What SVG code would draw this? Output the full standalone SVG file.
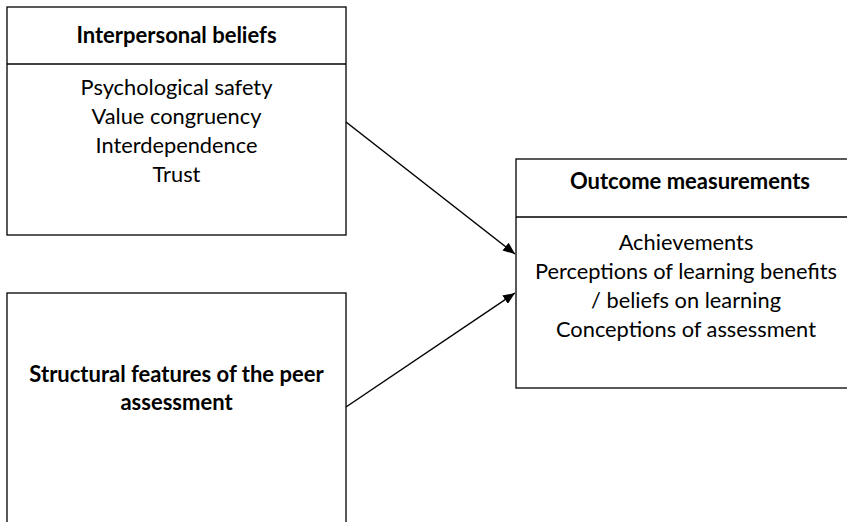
<svg xmlns="http://www.w3.org/2000/svg" width="847" height="522" viewBox="0 0 847 522">
<defs>
<marker id="ah" markerWidth="12" markerHeight="10" refX="12" refY="5" orient="auto" markerUnits="userSpaceOnUse" viewBox="0 0 12 10">
<path d="M0,0 L12,5 L0,10 z" fill="#000"/>
</marker>
<style>
.box{fill:#fff;stroke:#000;stroke-width:1.3}
.t{font-family:Lato,"Open Sans","Liberation Sans",sans-serif;font-size:21.8px;fill:#000;text-anchor:middle}
.b{font-weight:bold;font-size:22px}
.c{stroke:#000;stroke-width:1.5;fill:none;marker-end:url(#ah)}
</style>
</defs>
<rect width="847" height="522" fill="#fff"/>
<g id="interpersonal">
<rect class="box" x="7" y="7" width="339" height="228"/>
<line x1="7" y1="64" x2="346" y2="64" stroke="#000" stroke-width="1.3"/>
<text class="t b" x="176.5" y="43">Interpersonal beliefs</text>
<text class="t" x="176.5" y="95">Psychological safety</text>
<text class="t" x="176.5" y="124">Value congruency</text>
<text class="t" x="176.5" y="153">Interdependence</text>
<text class="t" x="176.5" y="182">Trust</text>
</g>
<g id="structural">
<rect class="box" x="7" y="293" width="339" height="260"/>
<text class="t b" x="176.5" y="382">Structural features of the peer</text>
<text class="t b" x="176.5" y="410">assessment</text>
</g>
<g id="outcome">
<rect class="box" x="516" y="159" width="346" height="229"/>
<line x1="516" y1="217" x2="862" y2="217" stroke="#000" stroke-width="1.3"/>
<text class="t b" x="690" y="189">Outcome measurements</text>
<text class="t" x="686" y="250">Achievements</text>
<text class="t" x="686" y="279">Perceptions of learning benefits</text>
<text class="t" x="686" y="308">/ beliefs on learning</text>
<text class="t" x="686" y="337">Conceptions of assessment</text>
</g>
<g id="connectors">
<line class="c" x1="346" y1="122" x2="515" y2="254"/>
<line class="c" x1="346" y1="407" x2="515" y2="293"/>
</g>
</svg>
